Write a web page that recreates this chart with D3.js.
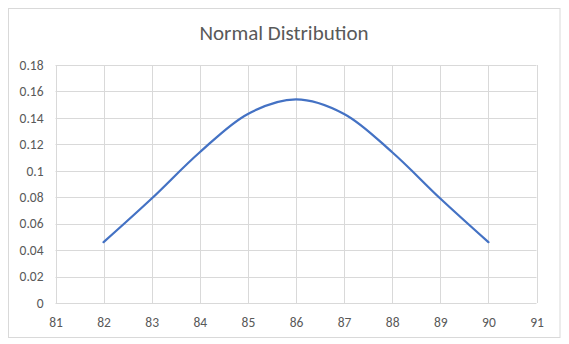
<!DOCTYPE html>
<html>
<head>
<meta charset="utf-8">
<script src="https://cdn.jsdelivr.net/npm/d3@7"></script>
<style>
  html, body { margin: 0; padding: 0; background: #fff; }
  svg { display: block; }
</style>
</head>
<body>
<svg id="chart" width="569" height="344"></svg>
<script>
// Sample points of the density curve
const xValues = [82, 83, 84, 85, 86, 87, 88, 89, 90];
const yValues = [0.046, 0.079, 0.114, 0.143, 0.154, 0.143, 0.114, 0.079, 0.046];
const xTicks = [81, 82, 83, 84, 85, 86, 87, 88, 89, 90, 91];
const yTicks = [0, 0.02, 0.04, 0.06, 0.08, 0.1, 0.12, 0.14, 0.16, 0.18];
const title = "Normal Distribution";

const svg = d3.select("#chart");
const W = 569, H = 344;
const font = "Calibri, Carlito, Lato, 'Open Sans', 'Liberation Sans', sans-serif";
const margin = { left: 55.5, right: W - 536.5, top: 65, bottom: H - 303 };

// Chart frame
svg.append("rect")
  .attr("x", 8.5).attr("y", 8.5)
  .attr("width", 551.5).attr("height", 329)
  .attr("fill", "#fff").attr("stroke", "#d9d9d9").attr("stroke-width", 1);

const x = d3.scaleLinear().domain([81, 91]).range([margin.left, W - margin.right]);
const y = d3.scaleLinear().domain([0, 0.18]).range([H - margin.bottom, margin.top]);

// Gridlines
const grid = svg.append("g").attr("stroke", "#d9d9d9").attr("stroke-width", 1);
grid.selectAll(".vg").data(xTicks).join("line")
  .attr("x1", d => Math.round(x(d)) + 0.5).attr("x2", d => Math.round(x(d)) + 0.5)
  .attr("y1", y(0.18)).attr("y2", y(0));
grid.selectAll(".hg").data(yTicks).join("line")
  .attr("y1", d => Math.round(y(d)) + 0.5).attr("y2", d => Math.round(y(d)) + 0.5)
  .attr("x1", x(81)).attr("x2", x(91));

// Axes (labels only; lines come from the grid)
const xAxis = svg.append("g")
  .attr("transform", `translate(0,${y(0)})`)
  .call(d3.axisBottom(x).tickValues(xTicks).tickSize(0).tickPadding(14).tickFormat(d3.format("d")));
const yAxis = svg.append("g")
  .attr("transform", `translate(${x(81)},0)`)
  .call(d3.axisLeft(y).tickValues(yTicks).tickSize(0).tickPadding(12).tickFormat(d => d === 0 ? "0" : d3.format("~g")(d)));
[xAxis, yAxis].forEach(a => {
  a.select(".domain").remove();
  a.selectAll("text").attr("fill", "#595959").style("font-family", font).style("font-size", "13.5px");
});

// Smoothed curve
const line = d3.line()
  .x((d, i) => x(xValues[i]))
  .y(d => y(d))
  .curve(d3.curveCatmullRom.alpha(0.5));
svg.append("path")
  .datum(yValues)
  .attr("d", line)
  .attr("fill", "none")
  .attr("stroke", "#4472c4")
  .attr("stroke-width", 2.25)
  .attr("stroke-linecap", "round");

// Title
svg.append("text")
  .attr("x", 284).attr("y", 40)
  .attr("text-anchor", "middle")
  .attr("fill", "#595959")
  .style("font-family", font)
  .style("font-size", "21px")
  .text(title);
</script>
</body>
</html>
